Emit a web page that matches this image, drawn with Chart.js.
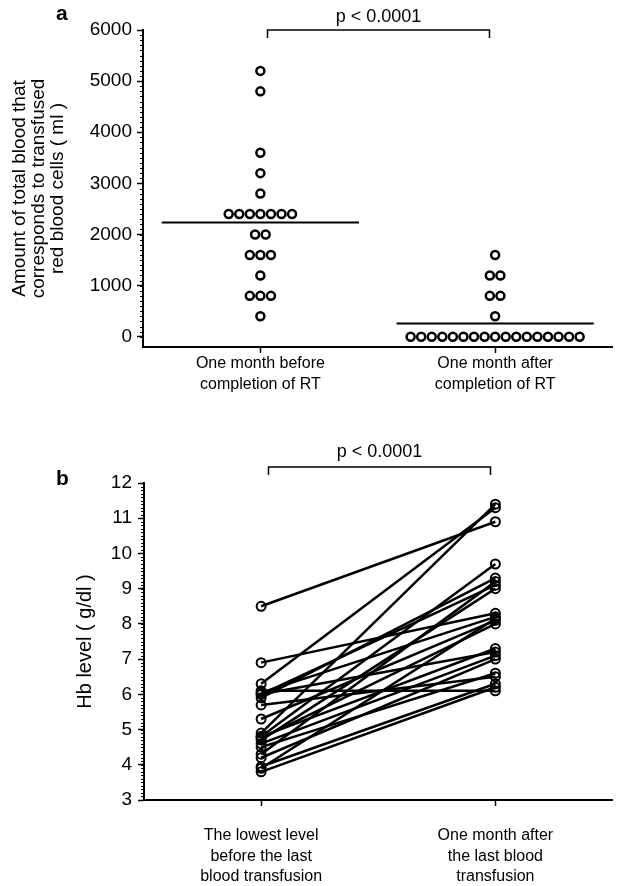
<!DOCTYPE html>
<html>
<head>
<meta charset="utf-8">
<script src="https://cdn.jsdelivr.net/npm/chart.js@4.4.0/dist/chart.umd.min.js"></script>
<style>
  html, body { margin: 0; padding: 0; background: #fff; }
  .wrap { position: absolute; left: 0; width: 619px; }
  #wrapA { top: 0; height: 400px; }
  #wrapB { top: 400px; height: 486px; }
  .letter { position: absolute; font: bold 21px "Liberation Sans", Arial, sans-serif; color: #000; }
</style>
</head>
<body>
<div class="wrap" id="wrapA"><canvas id="chartA" width="619" height="400"></canvas></div>
<div class="wrap" id="wrapB"><canvas id="chartB" width="619" height="486"></canvas></div>
<div class="letter" style="left:56px;top:1px;">a</div>
<div class="letter" style="left:56px;top:466px;">b</div>
<script>
// panel a: transfused blood (ml) per patient
const groupLabels = [['One month before', 'completion of RT'], ['One month after', 'completion of RT']];
const bloodBefore = [5200, 4800, 3600, 3200, 2800, 2400, 2400, 2400, 2400, 2400, 2400, 2400,
                     2000, 2000, 1600, 1600, 1600, 1200, 800, 800, 800, 400];
const bloodAfter = [1600, 1200, 1200, 800, 800, 400,
                    0, 0, 0, 0, 0, 0, 0, 0, 0, 0, 0, 0, 0, 0, 0, 0, 0];
const bloodTicks = [0, 1000, 2000, 3000, 4000, 5000, 6000];

// panel b: Hb level (g/dl), paired per patient
const hbLabels = [['The lowest level', 'before the last', 'blood transfusion'], ['One month after', 'the last blood', 'transfusion']];
const hbLowest = [8.5, 6.9, 6.3, 6.1, 6.05, 6.0, 5.9, 5.7, 5.3, 4.9, 4.8, 4.8, 4.75, 4.7, 4.6, 4.5, 4.3, 4.2, 3.95, 3.9, 3.8, 6.0];
const hbAfter  = [10.9, 8.3, 11.3, 6.1, 8.2, 7.2, 9.3, 6.5, 8.1, 11.4, 9.7, 7.3, 8.0, 9.0, 7.1, 6.6, 9.2, 7.0, 6.3, 8.15, 6.2, 9.1];

const FONT = '"Liberation Sans", Arial, sans-serif';
const DOT_GAP = 0.045;   // horizontal gap between stacked dots (x units)
const MEAN_HALF = 0.42;  // half width of the mean bar

// spread equal values side by side around the group position
function swarm(values, pos) {
  const counts = {};
  values.forEach(v => counts[v] = (counts[v] || 0) + 1);
  const seen = {};
  return values.map(v => {
    const i = seen[v] = (seen[v] === undefined ? 0 : seen[v] + 1);
    return { x: pos + (i - (counts[v] - 1) / 2) * DOT_GAP, y: v };
  });
}
const mean = arr => arr.reduce((a, b) => a + b, 0) / arr.length;

const minorTicks = {
  id: 'minorTicks',
  afterDraw(chart, args, o) {
    const y = chart.scales.y, ctx = chart.ctx;
    ctx.save();
    ctx.strokeStyle = '#000';
    ctx.lineWidth = 1;
    const n = Math.round((o.to - o.from) / o.step);
    for (let k = 0; k <= n; k++) {
      const py = Math.round(y.getPixelForValue(o.from + k * o.step)) + 0.5;
      ctx.beginPath();
      ctx.moveTo(y.right, py);
      ctx.lineTo(y.right - o.len, py);
      ctx.stroke();
    }
    ctx.restore();
  }
};

const bracket = {
  id: 'bracket',
  afterDraw(chart, args, o) {
    const x = chart.scales.x, ctx = chart.ctx;
    const x0 = Math.round(x.getPixelForValue(o.from)) + 0.5;
    const x1 = Math.round(x.getPixelForValue(o.to)) + 0.5;
    ctx.save();
    ctx.strokeStyle = '#000';
    ctx.lineWidth = 1.5;
    ctx.beginPath();
    ctx.moveTo(x0, o.top + o.leg);
    ctx.lineTo(x0, o.top);
    ctx.lineTo(x1, o.top);
    ctx.lineTo(x1, o.top + o.leg);
    ctx.stroke();
    ctx.fillStyle = '#000';
    ctx.font = '18px ' + FONT;
    ctx.textAlign = 'center';
    ctx.textBaseline = 'middle';
    ctx.fillText(o.text, (x0 + x1) / 2, o.textY);
    ctx.restore();
  }
};

function xScale(labels, height, pad) {
  return {
    type: 'linear', min: -0.5, max: 1.5,
    afterBuildTicks: s => { s.ticks = [{ value: 0 }, { value: 1 }]; },
    afterFit: s => { s.height = height; },
    ticks: {
      callback: v => labels[v],
      color: '#000', padding: pad, maxRotation: 0, autoSkip: false,
      font: { family: FONT, size: 16, lineHeight: 1.3 }
    },
    grid: { drawOnChartArea: false, tickLength: 6, tickColor: '#000', tickWidth: 1.5 },
    border: { color: '#000', width: 2 }
  };
}

// ---- panel a
const dotStyle = {
  pointRadius: 4, pointHoverRadius: 4, pointBorderWidth: 2.5,
  pointBorderColor: '#000', pointBackgroundColor: '#fff', showLine: false
};
const meanBefore = mean(bloodBefore), meanAfter = mean(bloodAfter);

new Chart(document.getElementById('chartA'), {
  type: 'scatter',
  data: {
    datasets: [
      { data: swarm(bloodBefore, 0), ...dotStyle },
      { data: swarm(bloodAfter, 1), ...dotStyle },
      { data: [{ x: -MEAN_HALF, y: meanBefore }, { x: MEAN_HALF, y: meanBefore }],
        showLine: true, borderColor: '#000', borderWidth: 2, pointRadius: 0 },
      { data: [{ x: 1 - MEAN_HALF, y: meanAfter }, { x: 1 + MEAN_HALF, y: meanAfter }],
        showLine: true, borderColor: '#000', borderWidth: 2, pointRadius: 0 }
    ]
  },
  options: {
    responsive: false,
    animation: false,
    layout: { padding: { top: 30, right: 0, left: 0, bottom: 0 } },
    plugins: {
      legend: { display: false },
      tooltip: { enabled: false },
      minorTicks: { from: 0, to: 6000, step: 100, len: 3 },
      bracket: { from: 0.03, to: 0.975, top: 30, leg: 8, text: 'p < 0.0001', textY: 17 }
    },
    scales: {
      x: xScale(groupLabels, 53, 0),
      y: {
        min: -200, max: 6000,
        afterBuildTicks: s => { s.ticks = bloodTicks.map(v => ({ value: v })); },
        afterFit: s => { s.width = 143; },
        ticks: { color: '#000', padding: 5, font: { family: FONT, size: 19 }, callback: v => String(v) },
        grid: { drawOnChartArea: false, tickLength: 6, tickColor: '#000', tickWidth: 1.5 },
        border: { color: '#000', width: 2 },
        title: {
          display: true,
          text: ['Amount of total blood that', 'corresponds to transfused', 'red blood cells ( ml )'],
          color: '#000',
          font: { family: FONT, size: 19, lineHeight: 1.0 },
          padding: { top: 10, bottom: 0 }
        }
      }
    }
  },
  plugins: [minorTicks, bracket]
});

// ---- panel b
const pairSets = hbLowest.map((v, i) => ({
  data: [{ x: 0, y: v }, { x: 1, y: hbAfter[i] }],
  showLine: true,
  borderColor: '#000', borderWidth: 2.5,
  pointRadius: 4.5, pointHoverRadius: 4.5, pointBorderWidth: 2,
  pointBorderColor: '#000', pointBackgroundColor: 'rgba(255,255,255,0)'
}));

new Chart(document.getElementById('chartB'), {
  type: 'scatter',
  data: { datasets: pairSets },
  options: {
    responsive: false,
    animation: false,
    layout: { padding: { top: 83, right: 0, left: 0, bottom: 0 } },
    plugins: {
      legend: { display: false },
      tooltip: { enabled: false },
      minorTicks: { from: 3, to: 12, step: 0.1, len: 3 },
      bracket: { from: 0.03, to: 0.975, top: 67, leg: 8, text: 'p < 0.0001', textY: 52 }
    },
    scales: {
      x: xScale(hbLabels, 86, 19),
      y: {
        min: 3, max: 12,
        ticks: { stepSize: 1, color: '#000', padding: 6, font: { family: FONT, size: 19 } },
        afterFit: s => { s.width = 144; },
        grid: { drawOnChartArea: false, tickLength: 6, tickColor: '#000', tickWidth: 1.5 },
        border: { color: '#000', width: 2 },
        title: {
          display: true,
          text: 'Hb level ( g/dl )',
          color: '#000',
          font: { family: FONT, size: 20 },
          padding: { top: 73, bottom: 0 }
        }
      }
    }
  },
  plugins: [minorTicks, bracket]
});
</script>
</body>
</html>
